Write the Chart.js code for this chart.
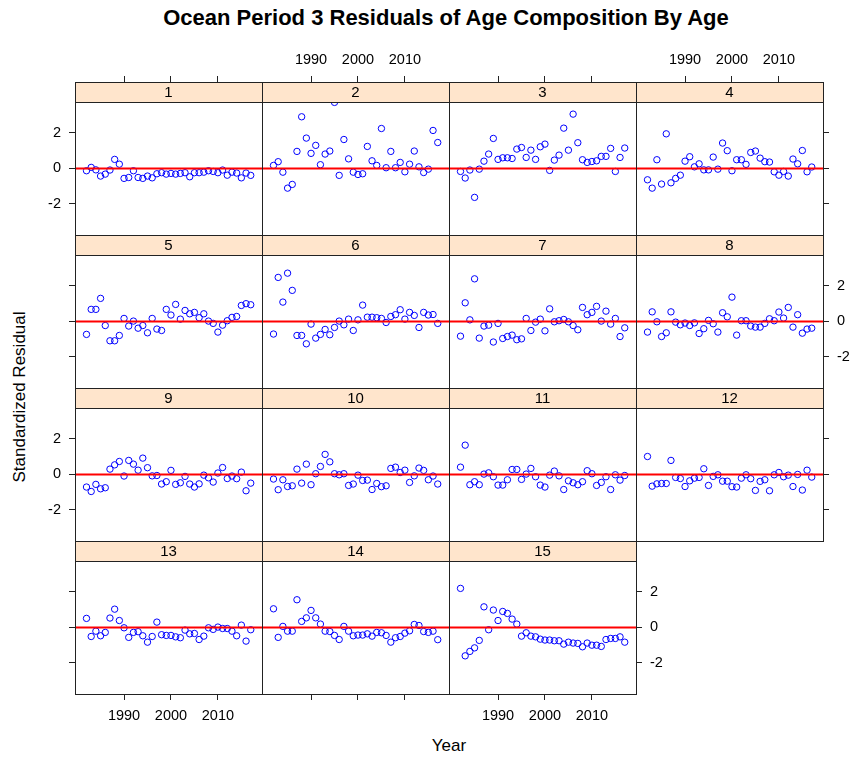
<!DOCTYPE html>
<html>
<head>
<meta charset="utf-8">
<script src="https://cdn.jsdelivr.net/npm/chart.js@4"></script>
<style>
body { margin: 0; background: #fff; font-family: "Liberation Sans", Arial, sans-serif; }
#wrap { position: relative; width: 852px; height: 757px; overflow: hidden; background: #fff; }
#wrap canvas { position: absolute; }
.txt { position: absolute; color: #000; white-space: nowrap; }
</style>
</head>
<body>
<div id="wrap">
  <div class="txt" id="title" style="left:446px;top:5px;transform:translateX(-50%);font-weight:bold;font-size:22px;">Ocean Period 3 Residuals of Age Composition By Age</div>
  <div class="txt" style="left:20px;top:397px;transform:translate(-50%,-50%) rotate(-90deg);font-size:17px;">Standardized Residual</div>
  <div class="txt" style="left:449px;top:746px;transform:translate(-50%,-50%);font-size:17px;">Year</div>
</div>
<script>
// data
const YEARS = [1982,1983,1984,1985,1986,1987,1988,1989,1990,1991,1992,1993,1994,1995,1996,1997,1998,1999,
               2000,2001,2002,2003,2004,2005,2006,2007,2008,2009,2010,2011,2012,2013,2014,2015,2016,2017];
const AGES = ['1','2','3','4','5','6','7','8','9','10','11','12','13','14','15'];
const X_TICKS = [1990, 2000, 2010];
const Y_TICKS = [-2, 0, 2];

const age1 = [-0.13,0.06,-0.08,-0.43,-0.32,-0.09,0.51,0.24,-0.56,-0.51,-0.13,-0.51,-0.56,-0.43,-0.53,-0.30,-0.24,-0.32,
              -0.28,-0.32,-0.28,-0.24,-0.47,-0.24,-0.24,-0.21,-0.13,-0.17,-0.24,-0.09,-0.38,-0.21,-0.26,-0.53,-0.26,-0.39];
const age2 = [0.17,0.38,-0.21,-1.11,-0.90,0.96,2.91,1.71,0.85,1.30,0.21,0.81,0.98,3.72,-0.39,1.63,0.54,-0.21,
              -0.34,-0.30,1.24,0.43,0.17,2.25,0.04,0.96,0.04,0.34,-0.19,0.24,0.98,0.09,-0.23,-0.04,2.14,1.46];
const age3 = [-0.17,-0.54,-0.09,-1.63,-0.04,0.41,0.81,1.69,0.51,0.60,0.60,0.56,1.09,1.18,0.62,1.03,0.51,1.22,
              1.37,-0.11,0.47,0.75,2.27,1.03,3.06,1.45,0.49,0.34,0.39,0.43,0.68,0.68,1.13,-0.17,0.62,1.15];
const age4 = [-0.64,-1.11,0.49,-0.88,1.95,-0.81,-0.56,-0.38,0.41,0.66,0.09,0.26,-0.08,-0.08,0.64,-0.04,1.43,1.00,
              -0.13,0.49,0.49,0.23,0.90,0.98,0.58,0.38,0.36,-0.19,-0.38,-0.17,-0.43,0.53,0.26,1.01,-0.19,0.08];
const age5 = [-0.73,0.68,0.68,1.30,-0.23,-1.09,-1.09,-0.79,0.17,-0.26,0.02,-0.38,-0.23,-0.64,0.17,-0.43,-0.51,0.68,
              0.36,0.96,0.13,0.62,0.43,0.51,0.21,0.43,0.02,-0.11,-0.60,-0.21,0.04,0.23,0.28,0.90,1.00,0.94];
const age6 = [-0.71,2.48,1.09,2.72,1.75,-0.79,-0.79,-1.26,-0.15,-0.94,-0.73,-0.45,-0.75,-0.34,0.02,-0.19,0.13,-0.51,
              0.09,0.92,0.24,0.24,0.21,0.17,-0.06,0.28,0.38,0.66,0.13,0.51,0.34,-0.34,0.51,0.36,0.39,-0.11];
const age7 = [-0.83,1.05,0.09,2.40,-0.94,-0.26,-0.21,-1.16,-0.11,-0.96,-0.85,-0.77,-1.03,-0.98,0.17,-0.51,-0.04,0.13,
              -0.53,0.71,-0.02,0.04,0.11,-0.02,-0.23,-0.47,0.79,0.38,0.51,0.85,0.02,0.58,-0.15,0.17,-0.85,-0.36];
const age8 = [-0.60,0.54,-0.02,-0.85,-0.64,0.54,-0.04,-0.19,-0.09,-0.23,-0.08,-0.68,-0.41,0.06,-0.13,-0.60,0.49,0.26,
              1.37,-0.77,0.04,0.04,-0.26,-0.32,-0.32,-0.11,0.15,0.04,0.53,0.19,0.79,-0.32,0.38,-0.66,-0.43,-0.38];
const age9 = [-0.71,-0.96,-0.56,-0.81,-0.75,0.30,0.54,0.73,-0.09,0.79,0.58,0.24,0.92,0.38,-0.08,-0.06,-0.54,-0.41,
              0.23,-0.56,-0.47,-0.11,-0.54,-0.71,-0.53,-0.04,-0.19,-0.43,0.08,0.39,-0.23,-0.09,-0.24,0.13,-0.92,-0.49];
const age10 = [-0.26,-0.86,-0.30,-0.68,-0.64,0.30,-0.49,0.58,-0.58,0.04,0.45,1.13,0.71,0.04,-0.02,0.04,-0.62,-0.54,
               -0.04,-0.34,-0.32,-0.85,-0.51,-0.69,-0.64,0.34,0.41,0.11,0.24,-0.45,-0.08,0.36,0.23,-0.30,-0.09,-0.54];
const age11 = [0.41,1.65,-0.58,-0.41,-0.58,0.02,0.09,-0.13,-0.60,-0.60,-0.30,0.28,0.28,-0.28,0.02,0.34,-0.13,-0.60,
               -0.71,-0.04,0.19,-0.08,-0.85,-0.36,-0.47,-0.58,-0.41,0.21,0.04,-0.62,-0.45,-0.13,-0.85,-0.02,-0.32,-0.06];
const age12 = [1.01,-0.66,-0.53,-0.51,-0.51,0.79,-0.17,-0.23,-0.68,-0.36,-0.21,-0.17,0.32,-0.62,-0.11,-0.02,-0.38,-0.38,
               -0.69,-0.71,-0.21,-0.02,-0.24,-0.90,-0.39,-0.30,-0.92,-0.02,0.11,-0.13,-0.04,-0.68,0.00,-0.88,0.24,-0.15];
const age13 = [0.51,-0.51,-0.21,-0.47,-0.28,0.53,1.03,0.39,-0.02,-0.56,-0.28,-0.24,-0.47,-0.83,-0.51,0.30,-0.41,-0.45,
               -0.45,-0.53,-0.58,-0.15,-0.36,-0.34,-0.68,-0.49,-0.02,-0.11,0.02,-0.06,-0.06,-0.21,-0.47,0.13,-0.77,-0.13];
const age14 = [1.05,-0.56,0.06,-0.21,-0.21,1.56,0.34,0.54,0.96,0.54,0.19,-0.21,-0.23,-0.45,-0.68,0.06,-0.21,-0.47,
               -0.43,-0.43,-0.36,-0.49,-0.28,-0.30,-0.45,-0.83,-0.58,-0.51,-0.32,-0.19,0.17,0.11,-0.23,-0.28,-0.21,-0.69];
const age15 = [2.20,-1.60,-1.35,-1.15,-0.73,1.16,-0.13,0.98,0.39,0.90,0.79,0.47,0.19,-0.49,-0.30,-0.49,-0.53,-0.66,
               -0.71,-0.71,-0.75,-0.75,-0.94,-0.83,-0.88,-0.90,-1.09,-0.88,-1.00,-1.00,-1.07,-0.68,-0.62,-0.62,-0.53,-0.83];
const RESIDUALS = [age1,age2,age3,age4,age5,age6,age7,age8,age9,age10,age11,age12,age13,age14,age15];

// layout of the lattice
const M = 40;            // margin around each panel for its axes
const STRIP = 20;        // strip height
const PLOT_H = 133;
const PANEL_W = 187;
const ROW_STEP = 153;
const X_MIN = 1979.55, X_MAX = 2019.4;
const Y_MIN = -3.75, PX_PER_UNIT = 17.75;
const Y_MAX = Y_MIN + (STRIP + PLOT_H) / PX_PER_UNIT;   // strip sits inside the top of the chart area

const FONT = { family: '"Liberation Sans", Arial, sans-serif', size: 14.5 };

// draws the strip (peach bar with age) and the panel box
const stripPlugin = {
  id: 'strip',
  afterDatasetsDraw(chart, args, opts) {
    const ctx = chart.ctx, a = chart.chartArea;
    const l = Math.round(a.left), t = Math.round(a.top);
    const w = Math.round(a.right - a.left), h = Math.round(a.bottom - a.top);
    ctx.save();
    ctx.fillStyle = '#FFE5CC';
    ctx.fillRect(l, t, w, STRIP);
    ctx.strokeStyle = '#222';
    ctx.lineWidth = 1;
    ctx.beginPath();
    ctx.moveTo(l, t + STRIP + 0.5);
    ctx.lineTo(l + w, t + STRIP + 0.5);
    ctx.stroke();
    ctx.strokeRect(l + 0.5, t + 0.5, w, h);
    ctx.fillStyle = '#000';
    ctx.font = '15px "Liberation Sans", Arial, sans-serif';
    ctx.textAlign = 'center';
    ctx.textBaseline = 'middle';
    ctx.fillText(opts.label, l + w / 2, t + STRIP / 2 + 1);
    ctx.restore();
  }
};

function xAxis(pos, showTicks, showLabels) {
  return {
    type: 'linear', position: pos, min: X_MIN, max: X_MAX,
    afterBuildTicks: s => { s.ticks = X_TICKS.map(v => ({ value: v })); },
    afterFit: s => { s.height = M; },
    grid: { drawOnChartArea: false, drawTicks: showTicks, tickLength: 6, color: '#222' },
    border: { display: false },
    ticks: { display: showLabels, autoSkip: false, maxRotation: 0, padding: 7, color: '#000', font: FONT,
             callback: v => String(v) }
  };
}

function yAxis(pos, showTicks, showLabels) {
  return {
    type: 'linear', position: pos, min: Y_MIN, max: Y_MAX,
    afterBuildTicks: s => { s.ticks = Y_TICKS.map(v => ({ value: v })); },
    afterFit: s => { s.width = M; },
    grid: { drawOnChartArea: false, drawTicks: showTicks, tickLength: 6, color: '#222' },
    border: { display: false },
    ticks: { display: showLabels, autoSkip: false, padding: 8, color: '#000', font: FONT,
             callback: v => String(v) }
  };
}

const wrap = document.getElementById('wrap');

RESIDUALS.forEach((vals, i) => {
  const col = i % 4, row = Math.floor(i / 4);
  const left = 75 + PANEL_W * col;
  const top = 82 + ROW_STEP * row;

  const cv = document.createElement('canvas');
  cv.width = PANEL_W + 2 * M;
  cv.height = STRIP + PLOT_H + 2 * M;
  cv.style.left = (left - M) + 'px';
  cv.style.top = (top - M) + 'px';
  wrap.appendChild(cv);

  const lastInRow = col === 3 || i === RESIDUALS.length - 1;
  const tickLeft = col === 0, labelLeft = col === 0 && row % 2 === 0;
  const tickRight = lastInRow, labelRight = lastInRow && row % 2 === 1;
  const tickTop = row === 0, labelTop = row === 0 && col % 2 === 1;
  const tickBottom = row === 3, labelBottom = row === 3 && col % 2 === 0;

  new Chart(cv.getContext('2d'), {
    type: 'scatter',
    data: {
      datasets: [
        {
          type: 'line',
          data: [{ x: X_MIN, y: 0 }, { x: X_MAX, y: 0 }],
          borderColor: '#FF0000', borderWidth: 2, pointRadius: 0, order: 0,
          xAxisID: 'x', yAxisID: 'y'
        },
        {
          data: vals.map((v, k) => ({ x: YEARS[k], y: v })),
          borderColor: '#0000FF', backgroundColor: 'rgba(0,0,0,0)',
          pointRadius: 3.2, borderWidth: 1, order: 1,
          xAxisID: 'x', yAxisID: 'y'
        }
      ]
    },
    options: {
      responsive: false,
      animation: false,
      events: [],
      layout: { padding: 0 },
      plugins: {
        legend: { display: false },
        tooltip: { enabled: false },
        strip: { label: AGES[i] }
      },
      scales: {
        x: xAxis('bottom', tickBottom, labelBottom),
        xTop: xAxis('top', tickTop, labelTop),
        y: yAxis('left', tickLeft, labelLeft),
        yRight: yAxis('right', tickRight, labelRight)
      }
    },
    plugins: [stripPlugin]
  });
});
</script>
</body>
</html>
